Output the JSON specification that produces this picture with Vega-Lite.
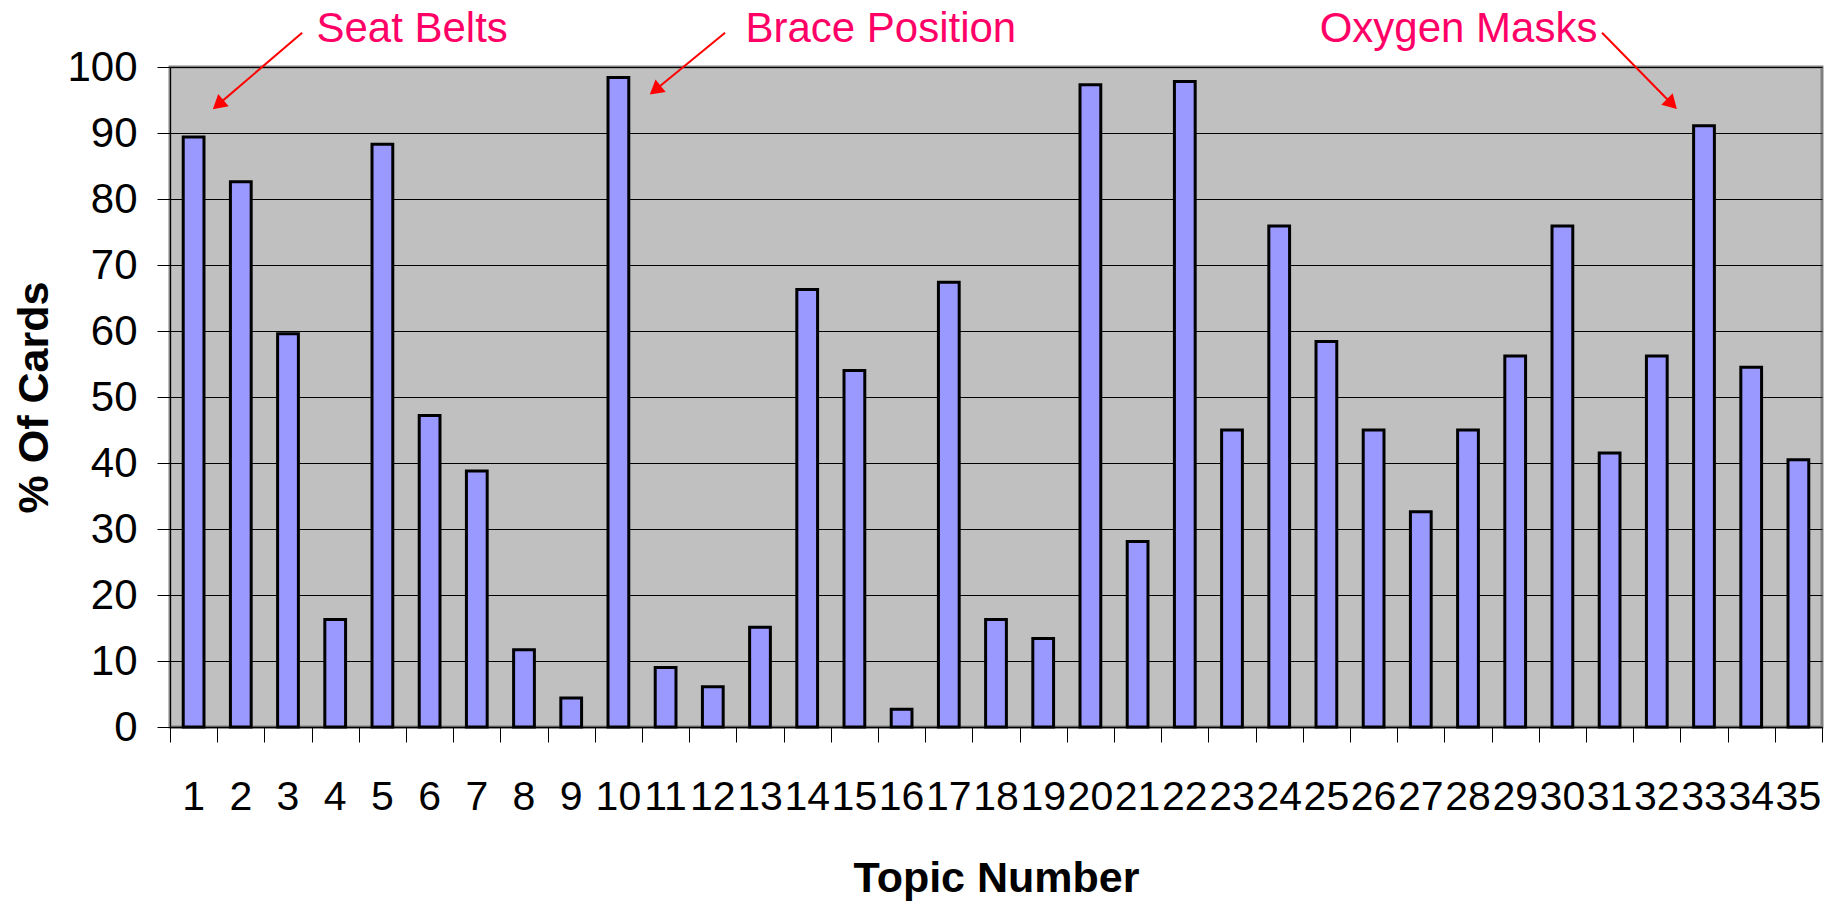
{
  "$schema": "https://vega.github.io/schema/vega-lite/v6.json",
  "width": 1652,
  "height": 660,
  "autosize": {"type": "none"},
  "padding": {"left": 170, "top": 67, "right": 9, "bottom": 178},
  "background": "white",
  "config": {
    "view": {"fill": "#C0C0C0", "stroke": "#808080", "strokeWidth": 3},
    "font": "Liberation Sans, Arial, sans-serif"
  },
  "datasets": {
    "bars": [
      {"topic": 1, "pct": 89.4}, {"topic": 2, "pct": 82.6}, {"topic": 3, "pct": 59.6},
      {"topic": 4, "pct": 16.3}, {"topic": 5, "pct": 88.3}, {"topic": 6, "pct": 47.2},
      {"topic": 7, "pct": 38.8}, {"topic": 8, "pct": 11.7}, {"topic": 9, "pct": 4.4},
      {"topic": 10, "pct": 98.4}, {"topic": 11, "pct": 9.0}, {"topic": 12, "pct": 6.1},
      {"topic": 13, "pct": 15.1}, {"topic": 14, "pct": 66.3}, {"topic": 15, "pct": 54.0},
      {"topic": 16, "pct": 2.7}, {"topic": 17, "pct": 67.4}, {"topic": 18, "pct": 16.3},
      {"topic": 19, "pct": 13.4}, {"topic": 20, "pct": 97.3}, {"topic": 21, "pct": 28.1},
      {"topic": 22, "pct": 97.8}, {"topic": 23, "pct": 45.0}, {"topic": 24, "pct": 75.9},
      {"topic": 25, "pct": 58.4}, {"topic": 26, "pct": 45.0}, {"topic": 27, "pct": 32.6},
      {"topic": 28, "pct": 45.0}, {"topic": 29, "pct": 56.2}, {"topic": 30, "pct": 75.9},
      {"topic": 31, "pct": 41.5}, {"topic": 32, "pct": 56.2}, {"topic": 33, "pct": 91.1},
      {"topic": 34, "pct": 54.5}, {"topic": 35, "pct": 40.5}
    ],
    "labels": [
      {"label": "Seat Belts", "x": 5.63, "y": 103.8},
      {"label": "Brace Position", "x": 15.56, "y": 103.8},
      {"label": "Oxygen Masks", "x": 27.8, "y": 103.8}
    ],
    "arrows": [
      {"arrow": "a", "x": 3.30, "y": 105.2, "x2": 1.52, "y2": 94.3},
      {"arrow": "b", "x": 12.26, "y": 105.2, "x2": 10.78, "y2": 96.5},
      {"arrow": "c", "x": 30.84, "y": 105.2, "x2": 32.32, "y2": 94.4}
    ]
  },
  "layer": [
    {
      "data": {"name": "bars"},
      "mark": {"type": "bar", "fill": "#9999FF", "stroke": "#000000", "strokeWidth": 3, "width": {"band": 0.44}},
      "encoding": {
        "x": {
          "field": "topic", "type": "ordinal",
          "scale": {"paddingInner": 0, "paddingOuter": 0},
          "axis": {
            "title": "Topic Number", "labelAngle": 0, "ticks": false, "grid": false,
            "domain": true, "domainColor": "#000000", "domainWidth": 1.5,
            "labelFontSize": 41, "labelColor": "#000000", "labelPadding": 50,
            "labelOverlap": false, "labelBound": false, "labelFlush": false,
            "titleFontSize": 43, "titleFontWeight": "bold", "titleColor": "#000000", "titlePadding": 40
          }
        },
        "y": {
          "field": "pct", "type": "quantitative",
          "scale": {"domain": [0, 100], "nice": false, "zero": true},
          "axis": {
            "title": "% Of Cards", "values": [0, 10, 20, 30, 40, 50, 60, 70, 80, 90, 100],
            "grid": true, "gridColor": "#000000", "gridWidth": 1, "gridOpacity": 1,
            "domainColor": "#000000", "domainWidth": 1,
            "tickColor": "#000000", "tickSize": 13, "tickWidth": 1,
            "labelFontSize": 42, "labelPadding": 20, "labelColor": "#000000",
            "titleFontSize": 43, "titleFontWeight": "bold", "titleColor": "#000000", "titlePadding": 10
          }
        }
      }
    },
    {
      "layer": [
        {
          "data": {"name": "arrows"},
          "mark": {"type": "rule", "color": "#FF0000", "strokeWidth": 2},
          "encoding": {
            "x": {
              "field": "x", "type": "quantitative",
              "scale": {"domain": [0.5, 35.5], "nice": false, "zero": false},
              "axis": {
                "orient": "bottom", "title": null, "labels": false, "domain": false, "grid": false,
                "ticks": true, "tickSize": 15, "tickColor": "#000000", "tickWidth": 1,
                "values": [0.5, 1.5, 2.5, 3.5, 4.5, 5.5, 6.5, 7.5, 8.5, 9.5, 10.5, 11.5, 12.5, 13.5, 14.5, 15.5, 16.5, 17.5, 18.5, 19.5, 20.5, 21.5, 22.5, 23.5, 24.5, 25.5, 26.5, 27.5, 28.5, 29.5, 30.5, 31.5, 32.5, 33.5, 34.5, 35.5]
              }
            },
            "x2": {"field": "x2"},
            "y": {"field": "y", "type": "quantitative", "scale": {"domain": [0, 100], "nice": false, "zero": true}, "axis": null},
            "y2": {"field": "y2"}
          }
        },
        {
          "data": {"name": "arrows"},
          "transform": [{"filter": "datum.arrow == 'a'"}],
          "mark": {"type": "point", "shape": "triangle-up", "filled": true, "color": "#FF0000", "opacity": 1, "size": 260, "angle": 229.5},
          "encoding": {
            "x": {"field": "x2", "type": "quantitative"},
            "y": {"field": "y2", "type": "quantitative"}
          }
        },
        {
          "data": {"name": "arrows"},
          "transform": [{"filter": "datum.arrow == 'b'"}],
          "mark": {"type": "point", "shape": "triangle-up", "filled": true, "color": "#FF0000", "opacity": 1, "size": 260, "angle": 230.8},
          "encoding": {
            "x": {"field": "x2", "type": "quantitative"},
            "y": {"field": "y2", "type": "quantitative"}
          }
        },
        {
          "data": {"name": "arrows"},
          "transform": [{"filter": "datum.arrow == 'c'"}],
          "mark": {"type": "point", "shape": "triangle-up", "filled": true, "color": "#FF0000", "opacity": 1, "size": 260, "angle": 135},
          "encoding": {
            "x": {"field": "x2", "type": "quantitative"},
            "y": {"field": "y2", "type": "quantitative"}
          }
        },
        {
          "data": {"name": "labels"},
          "mark": {"type": "text", "font": "Liberation Sans", "fontSize": 42, "color": "#FF0066", "align": "center", "baseline": "alphabetic"},
          "encoding": {
            "x": {"field": "x", "type": "quantitative"},
            "y": {"field": "y", "type": "quantitative"},
            "text": {"field": "label"}
          }
        }
      ]
    }
  ],
  "resolve": {
    "scale": {"x": "independent", "y": "independent"},
    "axis": {"x": "independent", "y": "independent"}
  }
}
